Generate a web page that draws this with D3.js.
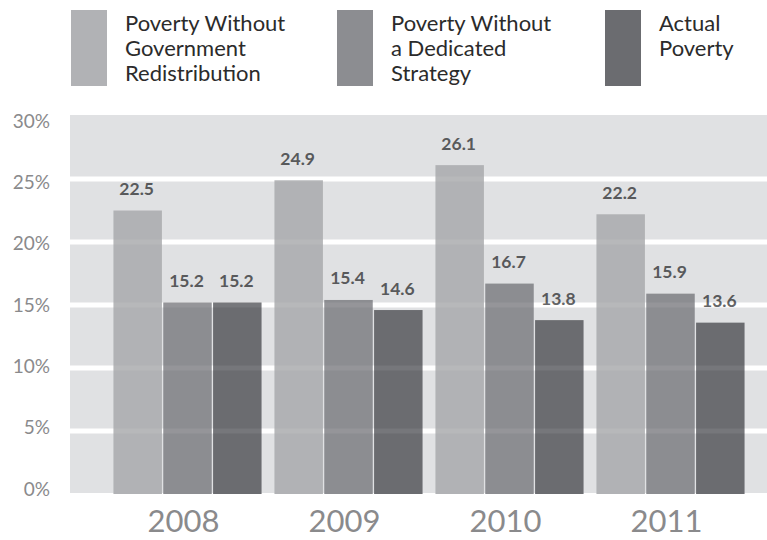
<!DOCTYPE html>
<html><head><meta charset="utf-8">
<script src="https://cdn.jsdelivr.net/npm/d3@7"></script>
<style>
html,body{margin:0;padding:0;background:#fff;}
svg{display:block;font-family:Lato,"Open Sans",sans-serif;}
</style></head>
<body>
<svg id="chart" width="767" height="540"></svg>
<script>
const years = ["2008","2009","2010","2011"];
const seriesNames = [
  ["Poverty Without","Government","Redistribution"],
  ["Poverty Without","a Dedicated","Strategy"],
  ["Actual","Poverty"]
];
const withoutRedistribution = [22.5, 24.9, 26.1, 22.2];
const withoutStrategy = [15.2, 15.4, 16.7, 15.9];
const actualPoverty = [15.2, 14.6, 13.8, 13.6];
const yTicks = [0, 5, 10, 15, 20, 25, 30];
const colors = ["#b1b2b5", "#8c8d91", "#6b6c70"];

const series = [withoutRedistribution, withoutStrategy, actualPoverty];
const svg = d3.select("#chart");

const plot = {left: 70, right: 767, top: 115, bottom: 493};

const y = d3.scaleLinear().domain([0, 30]).range([494, 116]);
const yLabel = d3.scaleLinear().domain([0, 30]).range([489, 121]);
const x = d3.scaleBand().domain(years).range([107, 751]).paddingInner(0.08).paddingOuter(0.04);
const xi = d3.scaleBand().domain([0,1,2]).range([0, x.bandwidth()]).paddingInner(0.027);

// background
svg.append("rect").attr("x", plot.left).attr("y", plot.top)
  .attr("width", plot.right - plot.left).attr("height", plot.bottom - plot.top)
  .attr("fill", "#e0e1e3");

// gridlines
const inner = yTicks.filter(t => t > 0 && t < 30);
svg.append("g").selectAll("line").data(inner).join("line")
  .attr("x1", plot.left).attr("x2", plot.right)
  .attr("y1", d => y(d)).attr("y2", d => y(d))
  .attr("stroke", "#fff").attr("stroke-width", 5);

// bars
const groups = svg.append("g").selectAll("g").data(years).join("g")
  .attr("transform", d => `translate(${x(d)},0)`);
groups.selectAll("rect").data((d, i) => series.map((s, k) => ({k, v: s[i]}))).join("rect")
  .attr("x", d => xi(d.k)).attr("width", xi.bandwidth())
  .attr("y", d => y(d.v)).attr("height", d => y(0) - y(d.v))
  .attr("fill", d => colors[d.k]);

// faint gridline overlay across bars
svg.append("g").selectAll("line").data(inner).join("line")
  .attr("x1", plot.left).attr("x2", plot.right)
  .attr("y1", d => y(d)).attr("y2", d => y(d))
  .attr("stroke", "#fff").attr("stroke-opacity", 0.08).attr("stroke-width", 5);

// value labels
groups.selectAll("text").data((d, i) => series.map((s, k) => ({k, v: s[i]}))).join("text")
  .attr("x", d => xi(d.k) + xi.bandwidth() / 2 - 1)
  .attr("y", d => y(d.v) - 15.5)
  .attr("text-anchor", "middle")
  .attr("font-size", 17.5).attr("font-weight", 700).attr("fill", "#58595b")
  .text(d => d.v.toFixed(1));

// y tick labels
svg.append("g").selectAll("text").data(yTicks).join("text")
  .attr("x", 50).attr("y", d => yLabel(d))
  .attr("dy", "0.35em").attr("text-anchor", "end")
  .attr("font-size", 19).attr("fill", "#8a8a8c")
  .text(d => d + "%");

// x labels
svg.append("g").selectAll("text").data(years).join("text")
  .attr("x", d => x(d) + x.bandwidth() / 2 - 4).attr("y", 532)
  .attr("text-anchor", "middle")
  .attr("font-size", 31).attr("fill", "#8a8a8c")
  .text(d => d);

// legend
const legendX = [71, 337, 605];
const leg = svg.append("g").selectAll("g").data(seriesNames).join("g")
  .attr("transform", (d, i) => `translate(${legendX[i]},10)`);
leg.append("rect").attr("width", 36).attr("height", 76).attr("fill", (d, i) => colors[i]);
leg.append("text").attr("x", 54).attr("y", 21)
  .attr("font-size", 22).attr("fill", "#2b2b2b")
  .selectAll("tspan").data(d => d).join("tspan")
  .attr("x", 54).attr("dy", (d, i) => i === 0 ? 0 : 25)
  .text(d => d);
</script>
</body></html>
